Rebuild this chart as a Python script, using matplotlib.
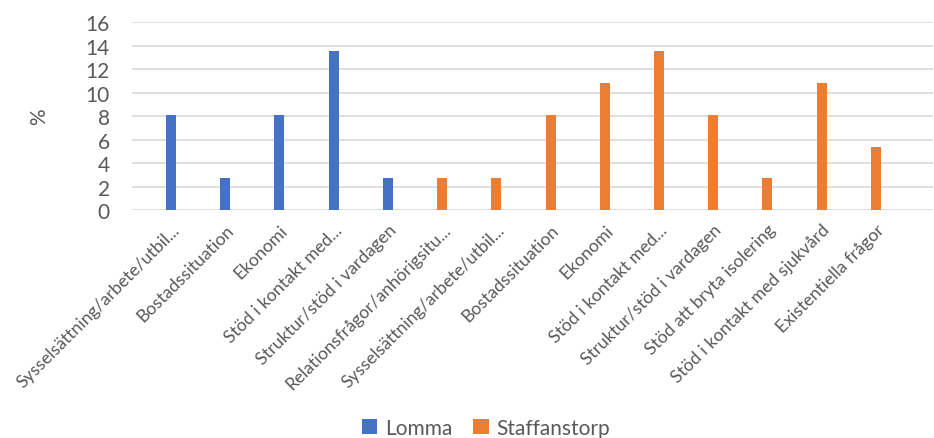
import numpy as np
import matplotlib.pyplot as plt

plt.rcParams['font.family'] = ['Lato', 'DejaVu Sans']

# kategorier och andelar (%) per kommun
lomma_kat = ['Sysselsättning/arbete/utbil...', 'Bostadssituation', 'Ekonomi',
             'Stöd i kontakt med...', 'Struktur/stöd i vardagen']
lomma_val = [8.1, 2.7, 8.1, 13.5, 2.7]

staff_kat = ['Relationsfrågor/anhörigsitu...', 'Sysselsättning/arbete/utbil...',
             'Bostadssituation', 'Ekonomi', 'Stöd i kontakt med...',
             'Struktur/stöd i vardagen', 'Stöd att bryta isolering',
             'Stöd i kontakt med sjukvård', 'Existentiella frågor']
staff_val = [2.7, 2.7, 8.1, 10.8, 13.5, 8.1, 2.7, 10.8, 5.4]

blue = '#4472C4'
orange = '#ED7D31'
grey = '#595959'

fig = plt.figure(figsize=(9.34, 4.39), dpi=100)
ax = fig.add_axes([0.1413, 0.519, 0.858, 0.4286])

x_l = np.arange(len(lomma_kat))
x_s = np.arange(len(staff_kat)) + len(lomma_kat)
bw = 0.185
ax.bar(x_l, lomma_val, width=bw, color=blue, label='Lomma', zorder=3)
ax.bar(x_s, staff_val, width=bw, color=orange, label='Staffanstorp', zorder=3)

ax.set_xlim(-0.72, 14.06)
ax.set_ylim(0, 16)
ax.set_yticks(np.arange(0, 17, 2))
ax.grid(axis='y', color='#d9d9d9', linewidth=1.2, zorder=0)
ax.set_axisbelow(True)
for s in ax.spines.values():
    s.set_visible(False)

ax.set_xticks(np.concatenate([x_l, x_s]))
ax.set_xticklabels(lomma_kat + staff_kat, rotation=45, ha='right',
                   rotation_mode='anchor', fontsize=12.7, color=grey)
ax.tick_params(axis='x', length=0, pad=8)
ax.tick_params(axis='y', length=0, pad=16, labelsize=15, labelcolor=grey)

ax.set_ylabel('%', fontsize=15, color=grey, labelpad=26)

# förklaring längst ner, centrerad under diagrammet
fig.legend(loc='center', bbox_to_anchor=(0.52, 0.023), ncol=2,
           frameon=False, fontsize=15, handlelength=0.75, handleheight=0.75,
           handletextpad=0.35, columnspacing=1.0, labelcolor=grey,
           borderpad=0)

fig.savefig('out.png', dpi=100)
